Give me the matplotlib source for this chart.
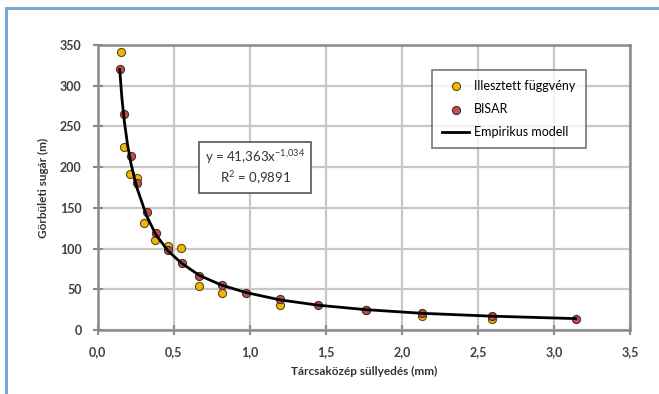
import matplotlib.pyplot as plt
from matplotlib.patches import Rectangle
from matplotlib.ticker import FuncFormatter, MultipleLocator

plt.rcParams['font.family'] = ['Lato', 'DejaVu Sans']
plt.rcParams['mathtext.default'] = 'regular'

# Illesztett függvény
fit_x = [0.151, 0.174, 0.211, 0.258, 0.308, 0.380, 0.462, 0.551, 0.668, 0.817,
         1.200, 1.763, 2.135, 2.592]
fit_y = [342, 225, 191, 187, 131, 111, 103, 101, 54, 46, 31, 24, 17, 14]

# BISAR
bisar_x = [0.146, 0.177, 0.219, 0.258, 0.323, 0.384, 0.464, 0.553, 0.670, 0.817,
           0.977, 1.200, 1.449, 1.763, 2.135, 2.592, 3.144]
bisar_y = [321, 265, 214, 180, 145, 119, 98, 82, 66, 55, 46, 38, 31, 25, 20.5, 17.2, 14]

# Empirikus modell
model_x = [0.146, 0.160, 0.177, 0.197, 0.219, 0.258, 0.323, 0.384, 0.464, 0.553,
           0.670, 0.817, 0.977, 1.200, 1.449, 1.763, 2.135, 2.592, 3.144]
model_y = [320, 285, 255, 228, 205, 175, 140, 117, 97, 82, 67, 55, 46, 37, 30.5,
           25, 20.5, 17, 14]

fig = plt.figure(figsize=(6.59, 3.94), dpi=100)
ax = fig.add_axes([0.148, 0.1624, 0.808, 0.7234])

# blue frame around the chart (only left and top edges fall inside the image)
fig.patches.append(Rectangle((6 / 659, -0.2), 1.5, 1.2 - 8 / 394,
                             transform=fig.transFigure, fill=False,
                             edgecolor='#7ea6d8', linewidth=2.2))

ax.scatter(fit_x, fit_y, s=34, color='#f2b705', edgecolor='#5a4a1a',
           linewidth=0.8, zorder=3, label='Illesztett függvény')
ax.scatter(bisar_x, bisar_y, s=34, color='#c0504d', edgecolor='#4a2a2a',
           linewidth=0.8, zorder=4, label='BISAR')
ax.plot(model_x, model_y, color='black', linewidth=2, zorder=5,
        label='Empirikus modell')

ax.set_xlim(0, 3.5)
ax.set_ylim(0, 350)
ax.xaxis.set_major_locator(MultipleLocator(0.5))
ax.yaxis.set_major_locator(MultipleLocator(50))
ax.xaxis.set_major_formatter(FuncFormatter(lambda v, p: '{:.1f}'.format(v).replace('.', ',')))
ax.grid(True, color='#c8c8c8', linewidth=1.6, zorder=0)
ax.set_axisbelow(True)
for s in ax.spines.values():
    s.set_color('#8a8a8a')
    s.set_linewidth(1.8)
ax.tick_params(direction='inout', length=7, width=1.5, color='#8a8a8a',
               labelsize=9, labelcolor='#404040', pad=8)
for lbl in ax.get_xticklabels() + ax.get_yticklabels():
    lbl.set_fontweight('bold')

ax.set_xlabel('Tárcsaközép süllyedés (mm)', fontsize=8.5, fontweight='bold',
              color='#333333', labelpad=6)
ax.set_ylabel('Görbületi sugár (m)', fontsize=8.5, fontweight='bold',
              color='#333333', labelpad=8)

leg = ax.legend(loc='upper left', bbox_to_anchor=(0.616, 0.935), fontsize=9,
                frameon=True, fancybox=False, edgecolor='#555555',
                handlelength=2.2, labelspacing=0.9, borderpad=0.8,
                handletextpad=0.4)
leg.get_frame().set_linewidth(1.2)
leg.set_zorder(10)

ax.text(0.296, 0.570, 'y = 41,363x$^{-1{,}034}$\nR$^2$ = 0,9891',
        transform=ax.transAxes, ha='center', va='center', fontsize=9.5,
        color='#333333', linespacing=1.3, zorder=11,
        bbox=dict(boxstyle='square,pad=0.45', facecolor='white',
                  edgecolor='#555555', linewidth=1.2))

fig.savefig('out.png', dpi=100)
